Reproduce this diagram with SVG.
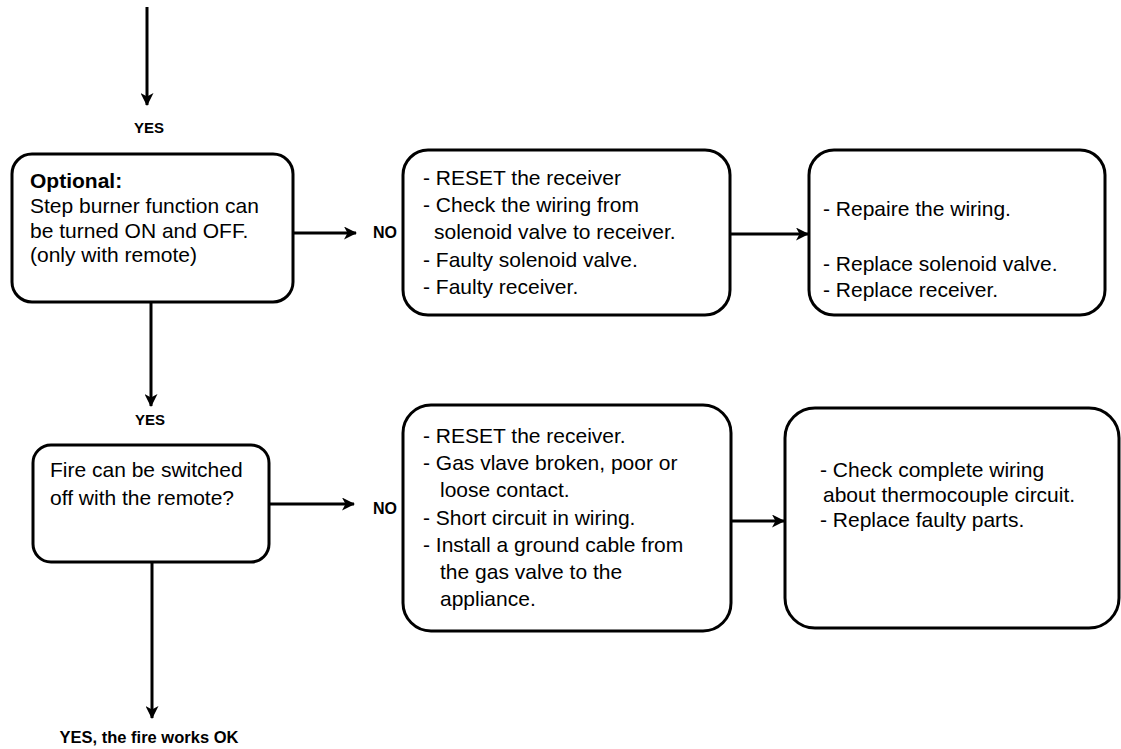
<svg xmlns="http://www.w3.org/2000/svg" width="1121" height="749" viewBox="0 0 1121 749">
<defs>
<style>
.box{fill:#fff;stroke:#000;stroke-width:3}
.t{font-family:"Liberation Sans",Arial,sans-serif;font-size:21px;fill:#000}
.b{font-family:"Liberation Sans",Arial,sans-serif;font-weight:bold;font-size:15px;fill:#000}
.c{fill:none;stroke:#000;stroke-width:3}
</style>
<marker id="ah" viewBox="0 0 13 13" refX="12" refY="6.5" markerWidth="13" markerHeight="13" markerUnits="userSpaceOnUse" orient="auto">
<path d="M0,0 L13,6.5 L0,13 L3.5,6.5 Z" fill="#000"/>
</marker>
</defs>
<rect width="1121" height="749" fill="#fff"/>
<g id="connectors">
<line class="c" x1="147" y1="7" x2="147" y2="105" marker-end="url(#ah)"/>
<line class="c" x1="293" y1="233" x2="356" y2="233" marker-end="url(#ah)"/>
<line class="c" x1="730" y1="234" x2="808" y2="234" marker-end="url(#ah)"/>
<line class="c" x1="151" y1="302" x2="151" y2="406" marker-end="url(#ah)"/>
<line class="c" x1="269" y1="504" x2="354" y2="504" marker-end="url(#ah)"/>
<line class="c" x1="731" y1="521" x2="784" y2="521" marker-end="url(#ah)"/>
<line class="c" x1="152" y1="562" x2="152" y2="718" marker-end="url(#ah)"/>
<text class="b" x="149" y="133" text-anchor="middle">YES</text>
<text class="b" x="373" y="238" style="font-size:16px">NO</text>
<text class="b" x="150" y="425" text-anchor="middle">YES</text>
<text class="b" x="373" y="514" style="font-size:16px">NO</text>
<text class="b" x="149" y="743" text-anchor="middle" style="font-size:16.5px">YES, the fire works OK</text>
</g>
<g id="n1">
<rect class="box" x="12" y="154" width="281" height="148" rx="20"/>
<text class="t" x="30" y="188" font-weight="bold">Optional:</text>
<text class="t" x="30" y="213">Step burner function can</text>
<text class="t" x="30" y="238">be turned ON and OFF.</text>
<text class="t" x="30" y="262">(only with remote)</text>
</g>
<g id="n2">
<rect class="box" x="403" y="150" width="327" height="165" rx="25"/>
<text class="t" x="423" y="185">- RESET the receiver</text>
<text class="t" x="423" y="212">- Check the wiring from</text>
<text class="t" x="434" y="239">solenoid valve to receiver.</text>
<text class="t" x="423" y="267">- Faulty solenoid valve.</text>
<text class="t" x="423" y="294">- Faulty receiver.</text>
</g>
<g id="n3">
<rect class="box" x="809" y="150" width="296" height="165" rx="25"/>
<text class="t" x="823" y="216">- Repaire the wiring.</text>
<text class="t" x="823" y="271">- Replace solenoid valve.</text>
<text class="t" x="823" y="297">- Replace receiver.</text>
</g>
<g id="n4">
<rect class="box" x="33" y="445" width="236" height="117" rx="18"/>
<text class="t" x="50" y="477">Fire can be switched</text>
<text class="t" x="50" y="505">off with the remote?</text>
</g>
<g id="n5">
<rect class="box" x="403" y="405" width="328" height="226" rx="28"/>
<text class="t" x="423" y="443">- RESET the receiver.</text>
<text class="t" x="423" y="470">- Gas vlave broken, poor or</text>
<text class="t" x="440" y="497">loose contact.</text>
<text class="t" x="423" y="525">- Short circuit in wiring.</text>
<text class="t" x="423" y="552">- Install a ground cable from</text>
<text class="t" x="440" y="579">the gas valve to the</text>
<text class="t" x="440" y="606">appliance.</text>
</g>
<g id="n6">
<rect class="box" x="785" y="408" width="334" height="220" rx="30"/>
<text class="t" x="820" y="477">- Check complete wiring</text>
<text class="t" x="823" y="502">about thermocouple circuit.</text>
<text class="t" x="820" y="527">- Replace faulty parts.</text>
</g>
</svg>
